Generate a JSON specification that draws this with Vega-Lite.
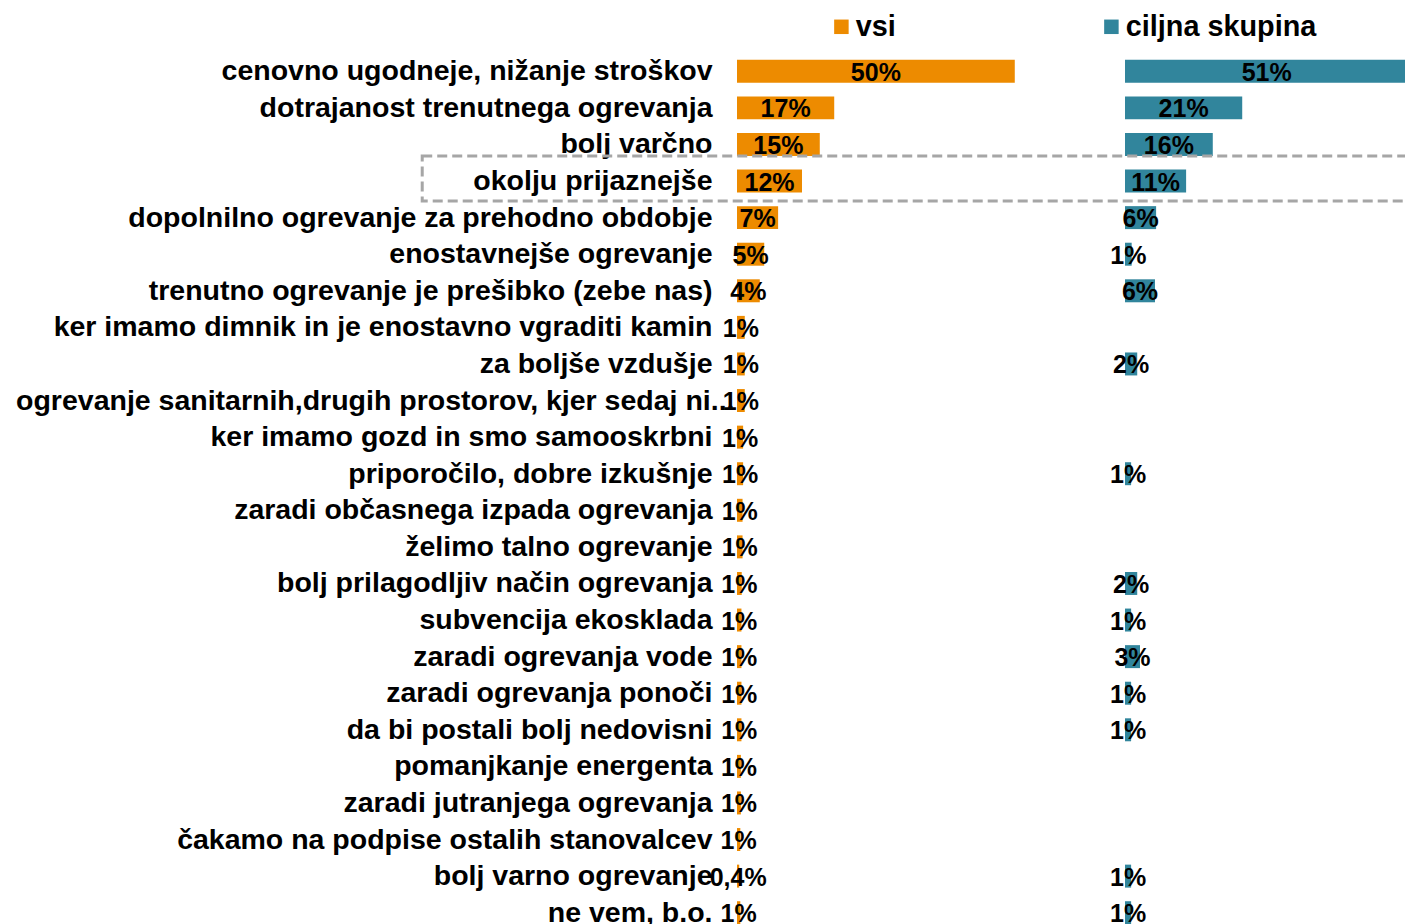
{
  "$schema": "https://vega.github.io/schema/vega-lite/v6.json",
  "width": 668,
  "height": 878,
  "autosize": {"type": "none"},
  "padding": {"left": 737, "top": 53, "right": 0, "bottom": 0},
  "background": "white",
  "config": {
    "view": {"stroke": null},
    "font": "Liberation Sans",
    "legend": {
      "orient": "none",
      "legendX": 90,
      "legendY": -41,
      "direction": "horizontal",
      "symbolType": "square",
      "symbolSize": 210,
      "symbolStrokeWidth": 0,
      "labelFont": "Liberation Sans",
      "labelFontWeight": "bold",
      "labelFontSize": 28.8,
      "labelColor": "black",
      "labelOffset": 0,
      "labelLimit": 500,
      "columnPadding": 201,
      "title": null
    }
  },
  "data": {
    "values": [
      {"kat": "cenovno ugodneje, nižanje stroškov", "grp": "vsi", "val": 50, "lab": "50%"},
      {"kat": "dotrajanost trenutnega ogrevanja", "grp": "vsi", "val": 17.5, "lab": "17%"},
      {"kat": "bolj varčno", "grp": "vsi", "val": 14.9, "lab": "15%"},
      {"kat": "okolju prijaznejše", "grp": "vsi", "val": 11.7, "lab": "12%"},
      {"kat": "dopolnilno ogrevanje za prehodno obdobje", "grp": "vsi", "val": 7.4, "lab": "7%"},
      {"kat": "enostavnejše ogrevanje", "grp": "vsi", "val": 4.9, "lab": "5%"},
      {"kat": "trenutno ogrevanje je prešibko (zebe nas)", "grp": "vsi", "val": 4.1, "lab": "4%"},
      {"kat": "ker imamo dimnik in je enostavno vgraditi kamin", "grp": "vsi", "val": 1.4, "lab": "1%"},
      {"kat": "za boljše vzdušje", "grp": "vsi", "val": 1.4, "lab": "1%"},
      {"kat": "ogrevanje sanitarnih,drugih prostorov, kjer sedaj ni...", "grp": "vsi", "val": 1.4, "lab": "1%"},
      {"kat": "ker imamo gozd in smo samooskrbni", "grp": "vsi", "val": 1.1, "lab": "1%"},
      {"kat": "priporočilo, dobre izkušnje", "grp": "vsi", "val": 1.1, "lab": "1%"},
      {"kat": "zaradi občasnega izpada ogrevanja", "grp": "vsi", "val": 1.0, "lab": "1%"},
      {"kat": "želimo talno ogrevanje", "grp": "vsi", "val": 1.0, "lab": "1%"},
      {"kat": "bolj prilagodljiv način ogrevanja", "grp": "vsi", "val": 0.85, "lab": "1%"},
      {"kat": "subvencija ekosklada", "grp": "vsi", "val": 0.8, "lab": "1%"},
      {"kat": "zaradi ogrevanja vode", "grp": "vsi", "val": 0.8, "lab": "1%"},
      {"kat": "zaradi ogrevanja ponoči", "grp": "vsi", "val": 0.8, "lab": "1%"},
      {"kat": "da bi postali bolj nedovisni", "grp": "vsi", "val": 0.8, "lab": "1%"},
      {"kat": "pomanjkanje energenta", "grp": "vsi", "val": 0.7, "lab": "1%"},
      {"kat": "zaradi jutranjega ogrevanja", "grp": "vsi", "val": 0.7, "lab": "1%"},
      {"kat": "čakamo na podpise ostalih stanovalcev", "grp": "vsi", "val": 0.6, "lab": "1%"},
      {"kat": "bolj varno ogrevanje", "grp": "vsi", "val": 0.4, "lab": "0,4%"},
      {"kat": "ne vem, b.o.", "grp": "vsi", "val": 0.6, "lab": "1%"},
      {"kat": "cenovno ugodneje, nižanje stroškov", "grp": "ciljna skupina", "val": 51, "lab": "51%"},
      {"kat": "dotrajanost trenutnega ogrevanja", "grp": "ciljna skupina", "val": 21.1, "lab": "21%"},
      {"kat": "bolj varčno", "grp": "ciljna skupina", "val": 15.8, "lab": "16%"},
      {"kat": "okolju prijaznejše", "grp": "ciljna skupina", "val": 11.0, "lab": "11%"},
      {"kat": "dopolnilno ogrevanje za prehodno obdobje", "grp": "ciljna skupina", "val": 5.6, "lab": "6%"},
      {"kat": "enostavnejše ogrevanje", "grp": "ciljna skupina", "val": 1.2, "lab": "1%"},
      {"kat": "trenutno ogrevanje je prešibko (zebe nas)", "grp": "ciljna skupina", "val": 5.4, "lab": "6%"},
      {"kat": "za boljše vzdušje", "grp": "ciljna skupina", "val": 2.2, "lab": "2%"},
      {"kat": "priporočilo, dobre izkušnje", "grp": "ciljna skupina", "val": 1.1, "lab": "1%"},
      {"kat": "bolj prilagodljiv način ogrevanja", "grp": "ciljna skupina", "val": 2.2, "lab": "2%"},
      {"kat": "subvencija ekosklada", "grp": "ciljna skupina", "val": 1.1, "lab": "1%"},
      {"kat": "zaradi ogrevanja vode", "grp": "ciljna skupina", "val": 2.7, "lab": "3%"},
      {"kat": "zaradi ogrevanja ponoči", "grp": "ciljna skupina", "val": 1.1, "lab": "1%"},
      {"kat": "da bi postali bolj nedovisni", "grp": "ciljna skupina", "val": 1.1, "lab": "1%"},
      {"kat": "bolj varno ogrevanje", "grp": "ciljna skupina", "val": 1.1, "lab": "1%"},
      {"kat": "ne vem, b.o.", "grp": "ciljna skupina", "val": 1.1, "lab": "1%"}
    ]
  },
  "encoding": {
    "y": {
      "field": "kat",
      "type": "nominal",
      "scale": {
        "domain": [
          "cenovno ugodneje, nižanje stroškov",
          "dotrajanost trenutnega ogrevanja",
          "bolj varčno",
          "okolju prijaznejše",
          "dopolnilno ogrevanje za prehodno obdobje",
          "enostavnejše ogrevanje",
          "trenutno ogrevanje je prešibko (zebe nas)",
          "ker imamo dimnik in je enostavno vgraditi kamin",
          "za boljše vzdušje",
          "ogrevanje sanitarnih,drugih prostorov, kjer sedaj ni...",
          "ker imamo gozd in smo samooskrbni",
          "priporočilo, dobre izkušnje",
          "zaradi občasnega izpada ogrevanja",
          "želimo talno ogrevanje",
          "bolj prilagodljiv način ogrevanja",
          "subvencija ekosklada",
          "zaradi ogrevanja vode",
          "zaradi ogrevanja ponoči",
          "da bi postali bolj nedovisni",
          "pomanjkanje energenta",
          "zaradi jutranjega ogrevanja",
          "čakamo na podpise ostalih stanovalcev",
          "bolj varno ogrevanje",
          "ne vem, b.o."
        ],
        "paddingInner": 0.372,
        "paddingOuter": 0.186
      },
      "axis": {
        "title": null,
        "ticks": false,
        "tickSize": 0,
        "domain": false,
        "labelPadding": {"condition": {"test": "indexof(datum.value, 'sanitarnih') >= 0", "value": 3}, "value": 25},
        "labelLimit": 900,
        "labelFont": "Liberation Sans",
        "labelFontWeight": "bold",
        "labelFontSize": 28.5,
        "labelColor": "black"
      }
    }
  },
  "layer": [
    {
      "transform": [
        {"filter": "datum.grp === 'vsi'"},
        {"calculate": "datum.val / 2", "as": "mid"}
      ],
      "layer": [
        {
          "mark": {"type": "bar"},
          "encoding": {
            "x": {"field": "val", "type": "quantitative", "scale": {"domain": [0, 50.4], "range": [0, 280], "nice": false, "zero": true}, "axis": null},
            "color": {
              "field": "grp",
              "type": "nominal",
              "scale": {"domain": ["vsi", "ciljna skupina"], "range": ["#ED8B00", "#31859C"]},
              "legend": {}
            }
          }
        },
        {
          "mark": {"type": "text", "font": "Liberation Sans", "fontWeight": "bold", "fontSize": 25, "color": "black", "align": "center", "baseline": "middle", "dy": 1.5},
          "encoding": {
            "x": {"field": "mid", "type": "quantitative"},
            "text": {"field": "lab"}
          }
        }
      ]
    },
    {
      "transform": [
        {"filter": "datum.grp === 'ciljna skupina'"},
        {"calculate": "datum.val / 2", "as": "mid"}
      ],
      "layer": [
        {
          "mark": {"type": "bar"},
          "encoding": {
            "x": {"field": "val", "type": "quantitative", "scale": {"domain": [0, 50.4], "range": [388, 668], "nice": false, "zero": true}, "axis": null},
            "color": {"field": "grp", "type": "nominal"}
          }
        },
        {
          "mark": {"type": "text", "font": "Liberation Sans", "fontWeight": "bold", "fontSize": 25, "color": "black", "align": "center", "baseline": "middle", "dy": 1.5},
          "encoding": {
            "x": {"field": "mid", "type": "quantitative"},
            "text": {"field": "lab"}
          }
        },
        {
          "transform": [{"filter": "datum.kat === 'okolju prijaznejše'"}],
          "mark": {"type": "bar", "fill": null, "fillOpacity": 0, "stroke": "#A6A6A6", "strokeWidth": 3, "strokeDash": [10, 5], "height": {"band": 1.956}, "yOffset": -2.5},
          "encoding": {
            "x": {"datum": -126.5, "type": "quantitative"},
            "x2": {"datum": 52.2}
          }
        }
      ]
    }
  ],
  "resolve": {"scale": {"x": "independent"}}
}
